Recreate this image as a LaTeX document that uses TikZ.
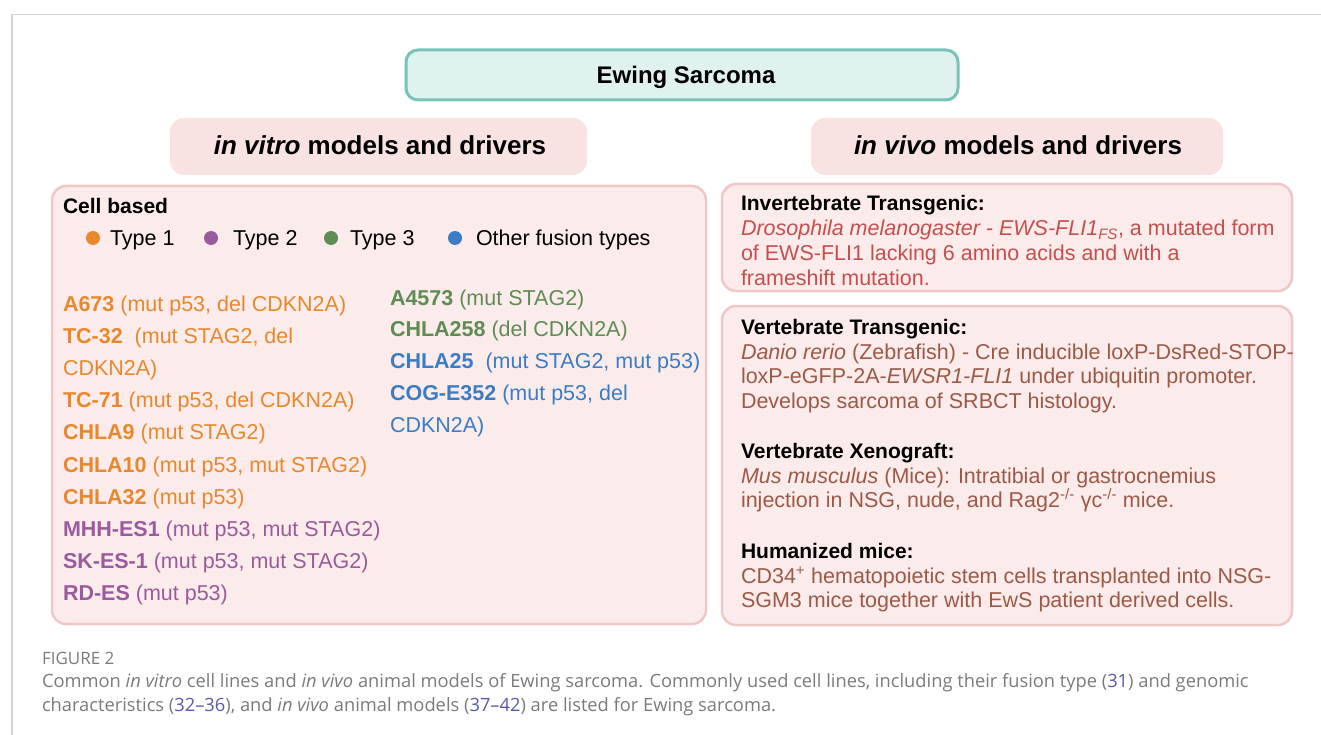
\documentclass[tikz,border=0pt]{standalone}
\usepackage{fontspec}
\setmainfont{Liberation Sans}
\newfontfamily\capfont{Open Sans}
\definecolor{frame}{HTML}{D4D4D4}
\definecolor{tealfill}{HTML}{E0F2EF}
\definecolor{tealline}{HTML}{78C2B7}
\definecolor{headfill}{HTML}{F9E2E2}
\definecolor{boxfill}{HTML}{FCEBEB}
\definecolor{boxline}{HTML}{F0C6C6}
\definecolor{tone}{HTML}{E8882C}
\definecolor{ttwo}{HTML}{9A5B9C}
\definecolor{tthree}{HTML}{5E8C52}
\definecolor{tother}{HTML}{3A7DC4}
\definecolor{redtxt}{HTML}{C64E4E}
\definecolor{browntxt}{HTML}{9B5A46}
\definecolor{capgray}{HTML}{7A7A7A}
\definecolor{reflink}{HTML}{5A5AAA}
\begin{document}
\begin{tikzpicture}[x=1pt,y=-1pt,
  panel/.style={draw=boxline, line width=2.5pt, fill=boxfill, rounded corners=14pt, inner sep=0pt},
  header/.style={fill=headfill, rounded corners=14pt, inner sep=0pt, font=\fontsize{26}{30}\selectfont\bfseries},
  txt/.style={anchor=base west, inner sep=0pt, outer sep=0pt, font=\fontsize{21.5}{25}\selectfont},
  dot/.style={circle, inner sep=0pt, minimum size=14pt},
  captxt/.style={anchor=base west, inner sep=0pt, outer sep=0pt, text=capgray, font=\capfont\fontsize{18.3}{22}\selectfont}
]
\useasboundingbox (0,0) rectangle (1321,735);
% outer frame
\coordinate (f1) at (12,735);
\coordinate (f2) at (12,14.5);
\coordinate (f3) at (1321,14.5);
\draw[frame, line width=1.5pt] (f1) -- (f2) -- (f3);

% title
\node[draw=tealline, line width=3pt, fill=tealfill, rounded corners=12pt, minimum width=552pt, minimum height=50pt] (es) at (682,75) {};
\node[anchor=base, inner sep=0pt, font=\fontsize{24}{28}\selectfont\bfseries] (estxt) at (686,83.5) {Ewing Sarcoma};

% headers
\node[header, minimum width=417pt, minimum height=57pt] (hvitro) at (378.5,146.5) {};
\node[anchor=base, inner sep=0pt, font=\fontsize{26}{30}\selectfont\bfseries] (hvitrotxt) at (380,155) {\textit{in vitro} models and drivers};
\node[header, minimum width=412pt, minimum height=57pt] (hvivo) at (1017,146.5) {};
\node[anchor=base, inner sep=0pt, font=\fontsize{26}{30}\selectfont\bfseries] (hvivotxt) at (1018,155) {\textit{in vivo} models and drivers};

% panels
\node[panel, minimum width=654pt, minimum height=438pt] (cells) at (379,405) {};
\node[panel, minimum width=570pt, minimum height=107pt] (invert) at (1007,237.5) {};
\node[panel, minimum width=570pt, minimum height=319pt] (vert) at (1007,465.5) {};

% left panel content
\node[txt, font=\fontsize{21}{25}\selectfont\bfseries] (cb) at (63,214) {Cell based};
\node[dot, fill=tone] (d1) at (93,238) {};
\node[txt] (l1) at (110,245) {Type 1};
\node[dot, fill=ttwo] (d2) at (211,238) {};
\node[txt] (l2) at (233,245) {Type 2};
\node[dot, fill=tthree] (d3) at (331,238) {};
\node[txt] (l3) at (350,245) {Type 3};
\node[dot, fill=tother] (d4) at (455,238) {};
\node[txt] (l4) at (476,245) {Other fusion types};

\node[txt, text=tone] (c1) at (63,311) {\textbf{A673} (mut p53, del CDKN2A)};
\node[txt, text=tone] (c2) at (63,343.2) {\textbf{TC-32}\ \ (mut STAG2, del};
\node[txt, text=tone] (c3) at (63,375.4) {CDKN2A)};
\node[txt, text=tone] (c4) at (63,407.6) {\textbf{TC-71} (mut p53, del CDKN2A)};
\node[txt, text=tone] (c5) at (63,439.8) {\textbf{CHLA9} (mut STAG2)};
\node[txt, text=tone] (c6) at (63,472) {\textbf{CHLA10} (mut p53, mut STAG2)};
\node[txt, text=tone] (c7) at (63,504.2) {\textbf{CHLA32} (mut p53)};
\node[txt, text=ttwo] (c8) at (63,536.4) {\textbf{MHH-ES1} (mut p53, mut STAG2)};
\node[txt, text=ttwo] (c9) at (63,568.6) {\textbf{SK-ES-1} (mut p53, mut STAG2)};
\node[txt, text=ttwo] (c10) at (63,600.8) {\textbf{RD-ES} (mut p53)};

\node[txt, text=tthree] (r1) at (390,305) {\textbf{A4573} (mut STAG2)};
\node[txt, text=tthree] (r2) at (390,336.8) {\textbf{CHLA258} (del CDKN2A)};
\node[txt, text=tother] (r3) at (390,368.6) {\textbf{CHLA25}\ \ (mut STAG2, mut p53)};
\node[txt, text=tother] (r4) at (390,400.4) {\textbf{COG-E352} (mut p53, del};
\node[txt, text=tother] (r5) at (390,432.2) {CDKN2A)};

% right panel 1
\node[txt, font=\fontsize{21}{25}\selectfont\bfseries] (it) at (741,211) {Invertebrate Transgenic:};
\node[txt, text=redtxt] (i1) at (741,236) {\textit{Drosophila melanogaster - EWS-FLI1\textsubscript{FS}}, a mutated form};
\node[txt, text=redtxt] (i2) at (741,260.5) {of EWS-FLI1 lacking 6 amino acids and with a};
\node[txt, text=redtxt] (i3) at (741,285) {frameshift mutation.};

% right panel 2
\node[txt, font=\fontsize{21}{25}\selectfont\bfseries] (vt) at (741,334) {Vertebrate Transgenic:};
\node[txt, text=browntxt] (v1) at (741,359) {\textit{Danio rerio} (Zebrafish) - Cre inducible loxP-DsRed-STOP-};
\node[txt, text=browntxt] (v2) at (741,383.5) {loxP-eGFP-2A-\textit{EWSR1-FLI1} under ubiquitin promoter.};
\node[txt, text=browntxt] (v3) at (741,408) {Develops sarcoma of SRBCT histology.};
\node[txt, font=\fontsize{21}{25}\selectfont\bfseries] (vx) at (741,458) {Vertebrate Xenograft:};
\node[txt, text=browntxt] (x1) at (741,483) {\textit{Mus musculus} (Mice): Intratibial or gastrocnemius};
\node[txt, text=browntxt] (x2) at (741,507.5) {injection in NSG, nude, and Rag2\textsuperscript{-/-} γc\textsuperscript{-/-} mice.};
\node[txt, font=\fontsize{21}{25}\selectfont\bfseries] (hm) at (741,558) {Humanized mice:};
\node[txt, text=browntxt] (h1) at (741,583) {CD34\textsuperscript{+} hematopoietic stem cells transplanted into NSG-};
\node[txt, text=browntxt] (h2) at (741,607.5) {SGM3 mice together with EwS patient derived cells.};

% caption
\node[captxt, font=\capfont\fontsize{17}{20}\selectfont] (fig) at (42,664) {FIGURE 2};
\node[captxt] (cap1) at (42,687.5) {Common \textit{in vitro} cell lines and \textit{in vivo} animal models of Ewing sarcoma. Commonly used cell lines, including their fusion type (\textcolor{reflink}{31}) and genomic};
\node[captxt] (cap2) at (42,711.5) {characteristics (\textcolor{reflink}{32\textendash 36}), and \textit{in vivo} animal models (\textcolor{reflink}{37\textendash 42}) are listed for Ewing sarcoma.};
\end{tikzpicture}
\end{document}
